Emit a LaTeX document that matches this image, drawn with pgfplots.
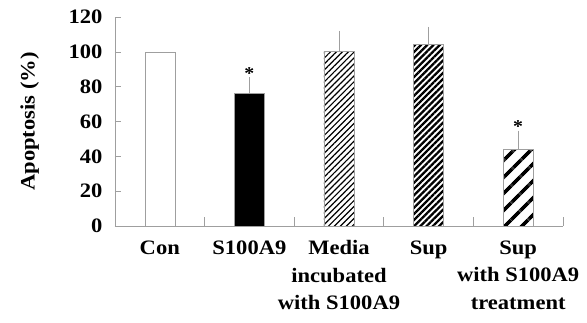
\documentclass[border=0pt]{standalone}
\usepackage{pgfplots}
\pgfplotsset{compat=1.18}
\usepackage{fontspec}
\setmainfont{Liberation Serif}[FakeStretch=1.1]
\usetikzlibrary{patterns.meta}

\newcommand{\lblfont}{\fontsize{20.5}{27.5}\selectfont\bfseries}

\begin{document}
\begin{tikzpicture}
\begin{axis}[
  scale only axis,
  width=448pt, height=209pt,
  xmin=0, xmax=5, ymin=0, ymax=120,
  clip=false,
  axis lines*=left,
  axis line style={draw=gray!75, line width=0.6pt},
  ybar, bar width=30pt,
  ytick={0,20,...,120},
  tick align=inside,
  major tick length=6pt,
  minor tick length=9pt,
  every tick/.append style={draw=gray!75, line width=0.6pt},
  xtick={0.5,1.5,2.5,3.5,4.5},
  minor xtick={1,2,3,4,5},
  every major x tick/.append style={draw=none},
  xticklabels={Con, S100A9, {Media\\incubated\\with S100A9}, Sup, {Sup\\with S100A9\\treatment}},
  x tick label style={align=center, anchor=north, font=\lblfont, yshift=-11pt},
  y tick label style={font=\lblfont, /pgf/number format/assume math mode=true, xshift=-9pt},
  ylabel={Apoptosis (\%)},
  every axis y label/.style={at={(axis description cs:-0.162,0.5)}, rotate=90, anchor=south, font=\lblfont},
  error bars/y dir=plus,
  error bars/y explicit,
  error bars/error bar style={draw=gray!75, line width=0.6pt},
  error bars/error mark options={draw=gray!75, line width=0.6pt, mark size=4pt},
]
% control
\addplot[bar shift=0pt, draw=gray!75, fill=white] coordinates {(0.5,100)};
% S100A9
\addplot[bar shift=0pt, draw=gray!75, fill=black] coordinates {(1.5,76.2) +- (0,6.8)};
% media incubated with S100A9
\addplot[bar shift=0pt, draw=gray!75, fill=white,
  postaction={pattern={Lines[angle=45, distance=4.2pt, line width=1.2pt]}}]
  coordinates {(2.5,100.2) +- (0,9.5)};
% supernatant
\addplot[bar shift=0pt, draw=gray!75, fill=white,
  postaction={pattern={Lines[angle=45, distance=4.4pt, line width=2.3pt]}}]
  coordinates {(3.5,104.4) +- (0,7.6)};
% supernatant with S100A9 treatment
\addplot[bar shift=0pt, draw=gray!75, fill=white,
  postaction={pattern={Lines[angle=45, distance=13pt, line width=4pt]}}]
  coordinates {(4.5,44) +- (0,8.4)};

% significance marks
\node[font=\fontsize{18}{20}\selectfont\bfseries, anchor=south, inner sep=2pt] at (axis cs:1.5,83) {*};
\node[font=\fontsize{18}{20}\selectfont\bfseries, anchor=south, inner sep=2pt] at (axis cs:4.5,52.4) {*};

\path (rel axis cs:0,0) ++(-115pt,-97pt) rectangle ++(587pt,323pt);
\end{axis}
\end{tikzpicture}
\end{document}
